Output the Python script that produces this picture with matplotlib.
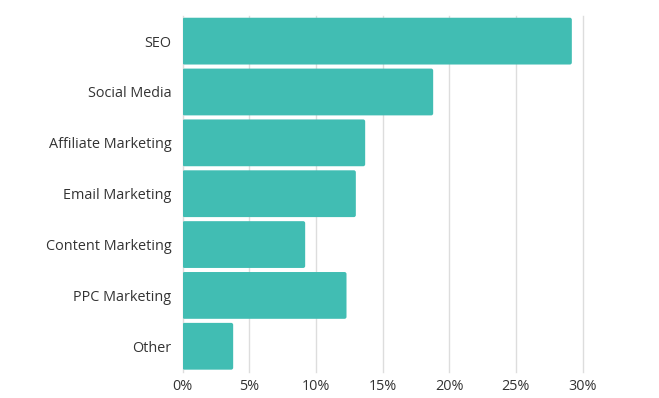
import matplotlib
matplotlib.use('Agg')
import matplotlib.pyplot as plt
from matplotlib.patches import FancyBboxPatch
from matplotlib.ticker import FuncFormatter

channels = ['SEO', 'Social Media', 'Affiliate Marketing', 'Email Marketing',
            'Content Marketing', 'PPC Marketing', 'Other']
shares = [29.2, 18.8, 13.7, 13.0, 9.2, 12.3, 3.8]
xticks = [0, 5, 10, 15, 20, 25, 30]

plt.rcParams['font.family'] = ['Open Sans', 'DejaVu Sans']

W, H = 659, 398
left, right, top, bottom = 182.5, 582.5, 15.7, 371.7
fig = plt.figure(figsize=(W / 100, H / 100), dpi=100)
ax = fig.add_axes([left / W, 1 - bottom / H, (right - left) / W, (bottom - top) / H])

bars = ax.barh(range(len(channels)), shares, height=0.92, color='#41BDB3')
ax.set_xlim(0, 30)
ax.set_ylim(6.5, -0.5)

# swap the square bars for slightly rounded ones
px_x = 30 / (right - left)
px_y = 7 / (bottom - top)
for b in bars:
    x, y = b.get_x(), b.get_y()
    w, h = b.get_width(), b.get_height()
    b.set_visible(False)
    ax.add_patch(FancyBboxPatch((x, y), w, h,
                                boxstyle='round,pad=0,rounding_size=%f' % (2 * px_x),
                                mutation_aspect=px_y / px_x,
                                facecolor='#41BDB3', edgecolor='none', zorder=3))

ax.set_xticks(xticks)
ax.xaxis.set_major_formatter(FuncFormatter(lambda v, p: '%d%%' % v))
ax.set_yticks(range(len(channels)))
ax.set_yticklabels(channels)
ax.grid(axis='x', color='#DDDDDD', linewidth=1, zorder=0)
for gl in ax.get_xgridlines():
    gl.set_clip_on(False)
ax.set_axisbelow(True)
for s in ax.spines.values():
    s.set_visible(False)
ax.tick_params(axis='both', length=0, labelsize=10.4, colors='#333333')
ax.tick_params(axis='y', pad=8)
ax.tick_params(axis='x', pad=5)

fig.savefig('out.png', dpi=100)
